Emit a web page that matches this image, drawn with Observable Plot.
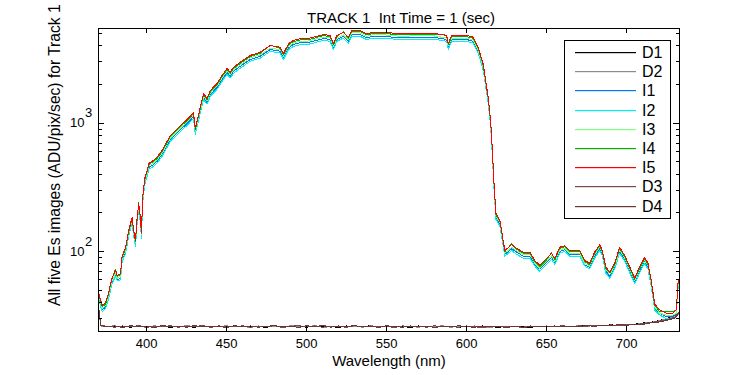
<!DOCTYPE html>
<html><head><meta charset="utf-8">
<script src="https://cdn.jsdelivr.net/npm/d3@7"></script>
<script src="https://cdn.jsdelivr.net/npm/@observablehq/plot@0.6"></script>
<style>html,body{margin:0;padding:0;background:#fff;}</style>
</head><body><div id="chart"></div>
<script>
// ---- data ----
const wavelength = [370,372.3,374.4,376.4,377.5,378.5,380.6,381.7,383.7,384.8,
386.8,388.9,391.0,392.0,393.1,394.1,395.1,396.2,396.8,397.6,
398.9,400.4,401.4,404.3,406.6,409.7,414.9,421.2,426.1,429.3,
430.5,433.6,435.7,437.8,439.9,444.0,447.2,450.3,452.3,454.4,
458.6,464.8,471.1,477.3,483.5,485.6,488.7,491.8,496.0,500.2,
504.3,510.6,514.7,516.8,518.9,523.0,526.1,528.3,533.4,537.6,
541.7,547.9,558.4,568.8,579.2,587.5,588.5,590.7,600.0,604.1,
607.2,610.4,612.5,613.5,615.0,616.2,617.0,618.3,620.8,622.8,
623.9,628.1,631.2,635.3,639.5,642.6,645.7,649.9,653.0,655.1,
658.2,661.3,664.4,670.7,673.8,676.9,680.0,683.2,684.8,686.9,
689.4,692.5,695.6,698.8,701.9,705.0,708.1,711.2,713.3,715.4,
717.5,720.6,724.8,728.9,731.0,732.2];
const I5 = [48,38,40,48,56,62,71,65,67,93,
106,146,185,146,122,181,237,185,141,265,
371,428,486,512,543,612,802,960,1089,1211,
910,1334,1703,1560,1799,2039,2354,2669,2500,2731,
2985,3375,3576,4033,3912,3493,4159,4416,4550,4550,
4680,4911,4827,4159,4827,5117,4680,5284,5284,4977,
5117,5117,4977,5024,5024,4827,4180,4827,4827,4680,
3912,2872,1910,1596,1049,581,357,198,175,122,
102,113,106,99,99,85,78,88,97,88,
108,111,102,102,85,81,99,113,102,76,
69,81,108,93,76,62,76,90,81,59,
39,35,33,33,35,60];
const I4 = [47,37,39,47,55,61,73,64,66,91,
104,143,181,143,120,177,240,181,138,260,
364,419,476,502,532,600,786,941,1067,1187,
892,1307,1669,1529,1763,1998,2307,2616,2450,2676,
2925,3308,3504,4070,3834,3423,4076,4328,4459,4459,
4586,4813,4730,4076,4730,5160,4586,5178,5178,4877,
5015,5015,4877,4924,4924,4860,4096,4730,4730,4586,
3834,2815,1872,1564,1028,569,350,194,172,120,
100,115,104,97,97,83,76,86,98,86,
106,109,100,100,83,79,97,111,100,74,
68,79,106,91,74,61,74,88,79,58,
38,34,34,34,35,59];
const I3 = [46,36,38,46,53,59,68,62,64,89,
101,139,177,139,117,173,226,177,135,253,
354,409,464,489,519,584,766,917,1040,1157,
869,1274,1626,1490,1718,1947,2248,2549,2388,2608,
2851,3223,3415,3852,3736,3336,3972,4217,4345,4345,
4469,4690,4610,3972,4610,4887,4469,5046,5046,4753,
4887,4887,4753,4798,4798,4610,3992,4610,4610,4469,
3736,2743,1824,1524,1002,555,341,189,167,117,
97,108,101,95,95,81,74,84,93,84,
103,106,97,97,81,77,95,108,97,73,
66,77,103,89,73,59,73,86,77,56,
37,33,32,32,33,57];
const I1 = [45,35,37,45,52,58,66,60,62,86,
99,136,172,136,113,168,220,172,131,246,
345,398,452,476,505,569,746,893,1013,1126,
846,1241,1584,1451,1673,1896,2189,2482,2325,2540,
2776,3139,3326,3751,3638,3248,3868,4107,4232,4232,
4352,4567,4489,3868,4489,4759,4352,4914,4914,4629,
4759,4759,4629,4672,4672,4489,3887,4489,4489,4352,
3638,2671,1776,1484,976,540,332,184,163,113,
95,105,99,92,92,79,73,82,90,82,
100,103,95,95,79,75,92,105,95,71,
64,75,100,86,71,58,71,84,75,55,
36,33,31,31,33,56];
const I2 = [43,34,36,43,50,56,64,59,60,84,
95,131,167,131,110,163,213,167,127,239,
334,385,437,461,489,551,722,864,980,1090,
819,1201,1533,1404,1619,1835,2119,2402,2250,2458,
2687,3038,3218,3630,3521,3144,3743,3974,4095,4095,
4212,4420,4344,3743,4344,4605,4212,4756,4756,4479,
4605,4605,4479,4522,4522,4344,3762,4344,4344,4212,
3521,2585,1719,1436,944,523,321,178,158,110,
92,102,95,89,89,77,70,79,87,79,
97,100,92,92,77,73,89,102,92,68,
62,73,97,84,68,56,68,81,73,53,
35,32,30,30,32,54];

const darkWavelength = [370,371.5,375,380,385,390,395,400,405,410,415,420,425,430,435,440,445,450,455,460,465,470,475,480,485,490,495,500,505,510,515,520,525,530,535,540,545,550,555,560,565,570,575,580,585,590,595,600,605,610,615,620,625,630,635,640,645,650,655,660,665,670,675,680,685,690,695,700,705,710,715,720,725,730,733];
const D1 = [37,26.4,26.0,25.8,26.2,25.7,26.3,26.0,25.8,26.4,25.6,26.2,26.0,25.7,26.3,25.9,26.1,25.6,26.4,25.8,26.2,25.9,25.7,26.3,26.0,25.8,26.2,25.7,26.4,25.9,26.1,25.6,26.3,25.8,26.0,26.4,25.7,26.2,25.9,26.0,25.6,26.3,25.8,26.1,25.9,26.2,25.7,26.0,25.8,26.3,25.9,25.7,26.1,25.8,26.0,25.6,26.2,25.9,26.1,26.3,26.0,26.4,26.2,26.6,26.4,26.8,26.6,27.2,27.1,27.7,28.1,28.9,30.0,31.4,33.8];
const D2 = [36,26.2,25.9,26.4,25.7,26.0,26.3,25.6,26.4,25.8,26.1,25.7,26.5,25.9,26.2,25.7,26.0,26.4,25.8,26.1,25.6,26.3,25.9,26.0,25.7,26.4,26.1,25.8,26.5,25.6,26.0,26.3,25.8,26.2,25.7,26.4,25.9,26.1,25.6,26.3,26.0,25.7,26.2,25.9,26.4,25.7,26.1,25.8,26.3,25.9,25.6,26.2,25.8,26.0,25.7,26.1,25.9,26.3,25.8,26.2,26.0,26.4,26.1,26.5,26.3,26.7,26.5,27.1,26.9,27.6,28.0,28.8,29.8,31.0,33];
const D3 = [38,26.8,26.1,25.7,26.3,25.8,26.5,25.6,26.2,25.9,26.4,25.7,26.2,25.9,26.5,25.6,26.3,26.0,25.8,26.4,25.7,26.2,25.9,26.4,25.6,26.1,26.5,25.8,26.3,25.7,26.2,26.0,25.7,26.4,25.9,26.3,25.8,26.1,25.6,26.3,25.9,26.2,25.7,26.4,25.8,26.0,25.7,26.3,25.9,25.6,26.1,25.8,26.2,25.9,25.7,26.3,25.8,26.1,25.9,26.4,26.0,26.3,26.2,26.7,26.3,26.8,26.5,27.0,26.8,27.5,27.9,28.6,29.4,30.8,34];
const D4 = [37,26.5,25.8,26.3,25.6,26.4,25.9,26.2,25.5,26.6,25.9,26.1,25.7,26.5,25.8,26.2,26.0,25.6,26.4,25.9,26.3,25.7,26.1,26.5,25.8,26.2,25.6,26.4,25.9,26.6,25.7,26.3,25.9,26.5,25.8,26.2,25.6,26.4,26.0,25.7,26.3,25.8,26.2,25.6,26.1,25.8,26.4,25.9,25.7,26.2,25.8,26.0,25.6,26.1,25.7,25.9,26.2,25.8,26.3,25.9,26.2,26.0,26.5,26.1,26.6,26.4,26.9,26.6,27.2,27.0,27.8,28.2,29.0,30.2,33.5];

const seriesNames = ["D1","D2","I1","I2","I3","I4","I5","D3","D4"];
const seriesColors = ["#000000","#8c8c8c","#0078f0","#00f0f0","#80ff80","#00b000","#ff0000","#7f4848","#6a3535"];
const xTicks = [400,450,500,550,600,650,700];
const yMajorTicks = [100,1000];
const yMinorTicks = [30,40,50,60,70,80,90,200,300,400,500,600,700,800,900,2000,3000,4000,5000];
const titleText = "TRACK 1\u00a0 Int Time = 1 (sec)";
const xLabel = "Wavelength (nm)";
const yLabel = "All five Es images (ADU/pix/sec) for Track 1";

// ---- build ----
const valuesByName = {D1, D2, I1, I2, I3, I4, I5, D3, D4};
const rowsFor = name => {
  const xs = name.startsWith("D") ? darkWavelength : wavelength;
  const vs = valuesByName[name];
  return xs.map((x, i) => ({nm: x, v: vs[i]})).filter(d => d.v != null);
};

const W = 750, H = 375, mL = 98, mR = 71, mT = 28, mB = 44;
const plotW = W - mL - mR, plotH = H - mT - mB;
const sans = "'Liberation Sans', Arial, Helvetica, sans-serif";
const narrow = "'Liberation Sans Narrow', 'Arial Narrow', 'Liberation Sans', Arial, sans-serif";

const lineMarks = seriesNames.map((name, i) =>
  Plot.line(rowsFor(name), {x: "nm", y: "v", stroke: seriesColors[i], strokeWidth: 1, shapeRendering: "crispEdges"}));

const svg = Plot.plot({
  width: W, height: H,
  marginLeft: mL, marginRight: mR, marginTop: mT, marginBottom: mB,
  style: {background: "white", fontFamily: sans, overflow: "visible"},
  x: {domain: [370, 733], axis: null},
  y: {type: "log", domain: [23.8, 5470], axis: null},
  marks: [
    ...lineMarks,
    Plot.frame({stroke: "black", strokeWidth: 1, shapeRendering: "crispEdges"}),
    Plot.tickX(xTicks, {x: d => d, insetTop: plotH - 5, stroke: "black", shapeRendering: "crispEdges"}),
    Plot.tickX(xTicks, {x: d => d, insetBottom: plotH - 5, stroke: "black", shapeRendering: "crispEdges"}),
    Plot.tickY(yMajorTicks, {y: d => d, insetRight: plotW - 6, stroke: "black", shapeRendering: "crispEdges"}),
    Plot.tickY(yMajorTicks, {y: d => d, insetLeft: plotW - 6, stroke: "black", shapeRendering: "crispEdges"}),
    Plot.tickY(yMinorTicks, {y: d => d, insetRight: plotW - 3.5, stroke: "black", shapeRendering: "crispEdges"}),
    Plot.tickY(yMinorTicks, {y: d => d, insetLeft: plotW - 3.5, stroke: "black", shapeRendering: "crispEdges"}),
    Plot.text(xTicks, {x: d => d, frameAnchor: "bottom", dy: 16, text: d => String(d), fontSize: 13, fontFamily: narrow, fill: "black"}),
    Plot.text(yMajorTicks, {y: d => d, frameAnchor: "left", dx: -14, textAnchor: "end", text: () => "10", fontSize: 13, fontFamily: narrow, fill: "black"}),
    Plot.text(yMajorTicks, {y: d => d, frameAnchor: "left", dx: -13.5, dy: -10, textAnchor: "start", text: d => String(Math.round(Math.log10(d))), fontSize: 13, fontFamily: narrow, fill: "black"}),
    Plot.text([titleText], {frameAnchor: "top", dx: 12, dy: -16, text: d => d, fontSize: 15, fill: "black"}),
    Plot.text([xLabel], {frameAnchor: "bottom", dy: 34, text: d => d, fontSize: 15, fill: "black"}),
    Plot.text([yLabel], {frameAnchor: "left", dx: -44, dy: 126, rotate: -90, textAnchor: "start", text: d => d, fontSize: 15.6, fill: "black"})
  ]
});

// ---- legend box (built from series names/colours) ----
const lg = d3.select(svg).append("g").attr("font-family", sans).attr("font-size", 16).attr("text-anchor", "start");
const lx0 = 564, ly0 = 40, lw = 106, lh = 178, rowH = 19.2;
lg.append("rect").attr("x", lx0 + 0.5).attr("y", ly0 + 0.5).attr("width", lw).attr("height", lh)
  .attr("fill", "white").attr("stroke", "black").attr("shape-rendering", "crispEdges");
seriesNames.forEach((name, i) => {
  const cy = Math.round(ly0 + 12 + i * rowH);
  lg.append("rect").attr("x", lx0 + 11).attr("width", 61).attr("y", cy).attr("height", 1.2)
    .attr("fill", seriesColors[i]).attr("stroke", "none");
  lg.append("text").attr("x", lx0 + 78).attr("y", cy + 0.5).attr("dy", "0.36em").attr("fill", "black")
    .attr("text-anchor", "start").text(name);
});

document.getElementById("chart").appendChild(svg);
</script>
</body></html>
